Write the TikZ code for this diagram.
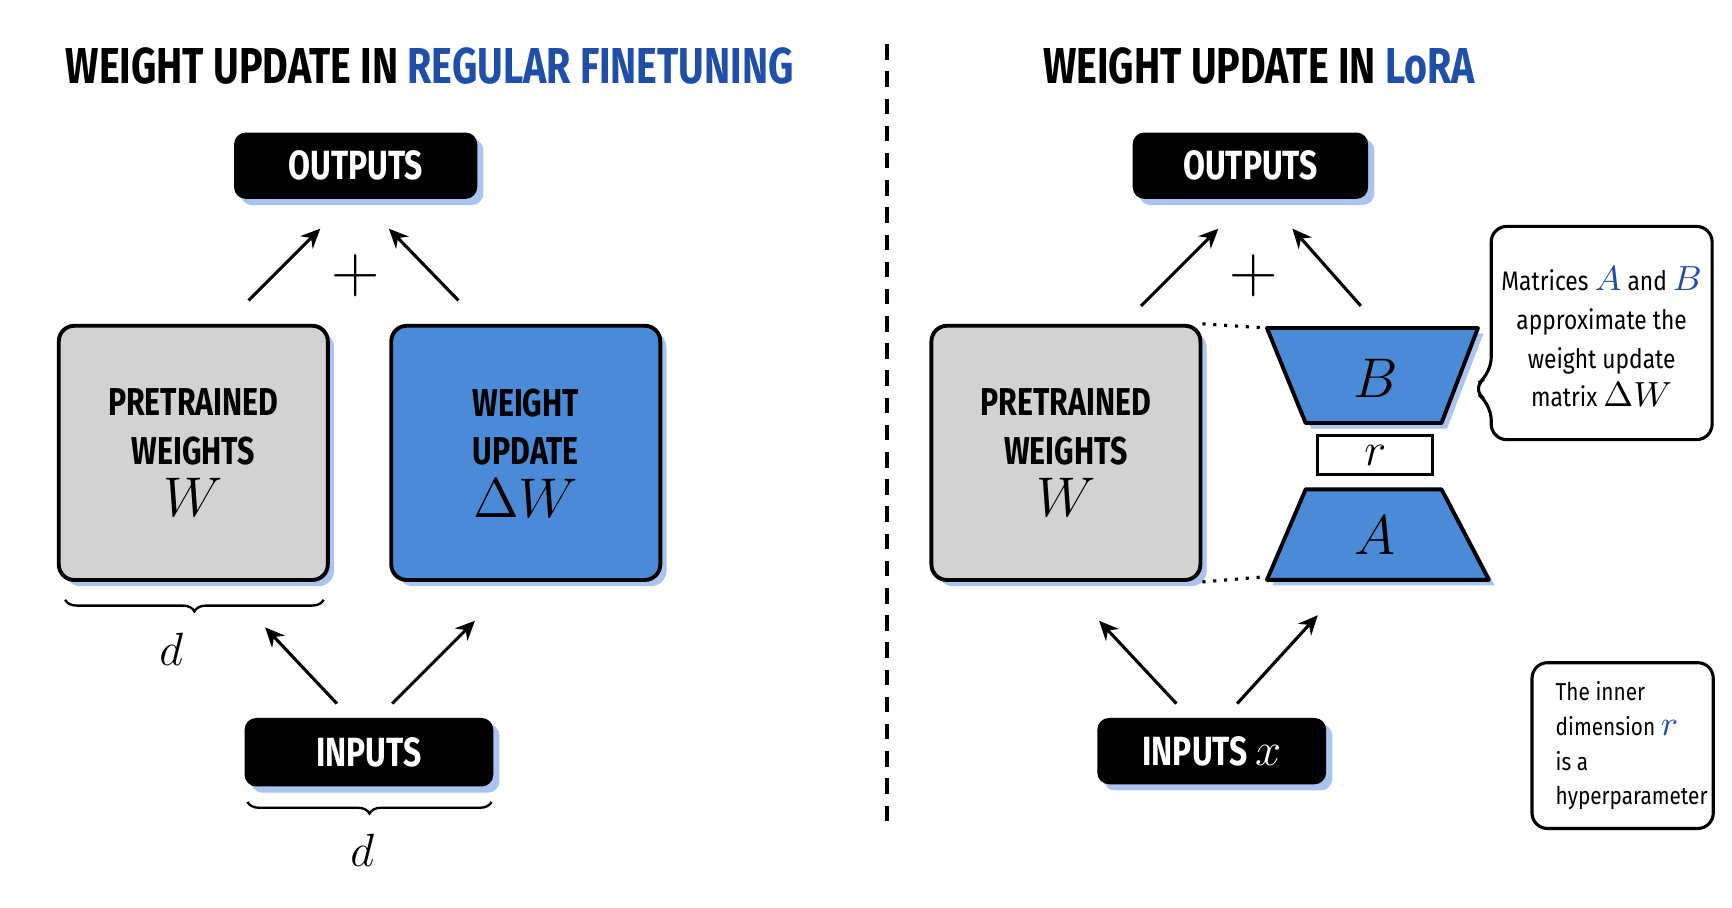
\documentclass[tikz,border=0pt]{standalone}
\usepackage{fontspec}
\setmainfont{Fira Sans}
\newfontfamily\cond[FakeStretch=0.78]{Fira Sans}
\newfontfamily\condn[FakeStretch=0.85]{Fira Sans}
\usetikzlibrary{arrows.meta,decorations.pathreplacing,calc,shadows}
\definecolor{lblue}{HTML}{4A8AD6}
\definecolor{tblue}{HTML}{1F4FA8}
\definecolor{shad}{HTML}{A9C4EE}
\definecolor{gbox}{HTML}{D2D2D2}
\begin{document}
\begin{tikzpicture}[x=0.01cm,y=-0.01cm,
  ttl/.style={font=\cond\fontsize{13}{15}\selectfont\bfseries,anchor=west},
  blk/.style={fill=black,rounded corners=3pt,text=white,font=\cond\fontsize{10.5}{12}\selectfont\bfseries,inner sep=0pt,
     drop shadow={shadow xshift=1.6pt,shadow yshift=-1.6pt,fill=shad,opacity=1}},
  sq/.style={draw=black,line width=1pt,rounded corners=4pt,minimum width=2.36cm,minimum height=2.3cm,align=center,
     font=\cond\fontsize{10}{12.5}\selectfont\bfseries,text width=2.2cm,
     drop shadow={shadow xshift=1.6pt,shadow yshift=-1.6pt,fill=shad,opacity=1}},
  ar/.style={-{Stealth[length=5pt,width=4.5pt]},line width=0.8pt},
  br/.style={decorate,decoration={brace,mirror,amplitude=3pt},line width=0.6pt},
  note/.style={draw=black,line width=0.8pt,rounded corners=4pt,fill=white},
  mth/.style={font=\fontsize{13}{13}\selectfont},
]
\useasboundingbox (0,0) rectangle (1568,822);
\fill[white] (0,0) rectangle (1568,822);
% titles
\node[ttl] (t1) at (47,60) {WEIGHT UPDATE IN \textcolor{tblue}{REGULAR FINETUNING}};
\node[ttl] (t2) at (932,60) {WEIGHT UPDATE IN \textcolor{tblue}{LoRA}};
\coordinate (dtop) at (803,40); \coordinate (dbot) at (803,750);
\draw[line width=0.8pt,dash pattern=on 4pt off 3pt] (dtop) -- (dbot);
% left
\node[blk,minimum width=2.2cm,minimum height=0.6cm] (o1) at (322,150) {OUTPUTS};
\node[sq,fill=gbox] (p1) at (175,410) {PRETRAINED\\WEIGHTS\\[1pt]{\fontsize{15}{15}\selectfont$W$}};
\node[sq,fill=lblue,minimum width=2.42cm] (u1) at (476,410) {WEIGHT\\UPDATE\\[1pt]{\fontsize{15}{15}\selectfont$\Delta W$}};
\node[blk,minimum width=2.25cm,minimum height=0.62cm] (i1) at (334,681) {INPUTS};
\coordinate (a1s) at (225,272); \coordinate (a1e) at (290,207);
\coordinate (a2s) at (415,272); \coordinate (a2e) at (352,207);
\draw[ar] (a1s) -- (a1e); \draw[ar] (a2s) -- (a2e);
\node[font=\fontsize{17}{17}\selectfont] (pl1) at (322,250) {$+$};
\coordinate (a3s) at (305,637); \coordinate (a3e) at (240,568);
\coordinate (a4s) at (355,637); \coordinate (a4e) at (430,562);
\draw[ar] (a3s) -- (a3e); \draw[ar] (a4s) -- (a4e);
\coordinate (b1a) at (59,543); \coordinate (b1b) at (293,543);
\draw[br] (b1a) -- (b1b);
\node[mth] (d1) at (155,588) {$d$};
\coordinate (b2a) at (224,726); \coordinate (b2b) at (445,726);
\draw[br] (b2a) -- (b2b);
\node[mth] (d2) at (328,770) {$d$};
% right
\node[blk,minimum width=2.13cm,minimum height=0.6cm] (o2) at (1132,150) {OUTPUTS};
\node[sq,fill=gbox,minimum width=2.37cm] (p2) at (965,410) {PRETRAINED\\WEIGHTS\\[1pt]{\fontsize{15}{15}\selectfont$W$}};
\node[blk,minimum width=2.07cm,minimum height=0.6cm] (i2) at (1097,680) {INPUTS {\fontsize{12}{12}\selectfont$x$}};
\draw[ar] (1033,277) coordinate (c1) -- (1103,207) coordinate (c2);
\draw[ar] (1232,277) coordinate (c3) -- (1170,207) coordinate (c4);
\node[font=\fontsize{17}{17}\selectfont] (pl2) at (1135,250) {$+$};
\draw[ar] (1065,637) coordinate (c5) -- (995,562) coordinate (c6);
\draw[ar] (1120,637) coordinate (c7) -- (1193,557) coordinate (c8);
% B, r, A
\fill[shad] ($(1147,297)+(5,5)$) -- ($(1338,297)+(5,5)$) -- ($(1305,383)+(5,5)$) -- ($(1182,383)+(5,5)$) -- cycle;
\fill[shad] ($(1182,443)+(5,5)$) -- ($(1305,443)+(5,5)$) -- ($(1348,525)+(5,5)$) -- ($(1147,525)+(5,5)$) -- cycle;
\draw[fill=lblue,line width=1pt,line join=round] (1147,297) -- (1338,297) -- (1305,383) -- (1182,383) -- cycle;
\draw[fill=lblue,line width=1pt,line join=round] (1182,443) -- (1305,443) -- (1348,525) -- (1147,525) -- cycle;
\node[mth,font=\fontsize{15}{15}\selectfont] (B) at (1245,343) {$B$};
\node[mth,font=\fontsize{15}{15}\selectfont] (A) at (1245,485) {$A$};
\node[draw,line width=0.8pt,fill=white,minimum width=1.04cm,minimum height=0.35cm,inner sep=0pt,font=\fontsize{13}{13}\selectfont] (r) at (1245,412) {$r$};
\draw[line width=0.8pt,dotted] (p2.north east) -- (1147,297);
\draw[line width=0.8pt,dotted] (p2.south east) -- (1147,522);
% notes
\draw[note] (1350,205) -- (1550,205) -- (1550,398) -- (1350,398) -- (1350,366) -- (1332,352) -- (1350,338) -- cycle;
\node[align=center,font=\condn\fontsize{6.9}{10}\selectfont] (n1) at (1450,305) {Matrices \textcolor{tblue}{\fontsize{9}{9}\selectfont$A$} and \textcolor{tblue}{\fontsize{9}{9}\selectfont$B$}\\approximate the\\weight update\\matrix {\fontsize{9}{9}\selectfont$\Delta W$}};
\node[note,minimum width=1.64cm,minimum height=1.5cm] (n2box) at (1469,675) {};
\node[align=left,font=\condn\fontsize{6.3}{9}\selectfont,anchor=west] (n2) at (1396,675) {The inner\\dimension \textcolor{tblue}{\fontsize{9}{9}\selectfont$r$}\\is a\\hyperparameter};
\end{tikzpicture}
\end{document}
